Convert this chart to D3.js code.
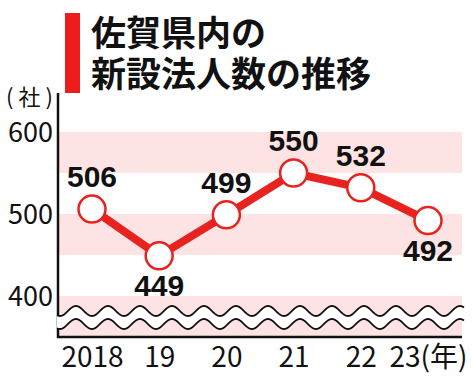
<!DOCTYPE html>
<html lang="ja">
<head>
<meta charset="UTF-8">
<script src="https://d3js.org/d3.v7.min.js"></script>
<style>
  body { margin: 0; background: #fff; }
  svg { display: block; }
  .tick text { font-family: 'Noto Sans CJK JP', sans-serif; fill: #111; }
</style>
</head>
<body>
<script>
var years = [2018, 2019, 2020, 2021, 2022, 2023];
var yearLabels = ["2018", "19", "20", "21", "22", "23(年)"];
var counts = [506, 449, 499, 550, 532, 492];
var labelSide = ["above", "below", "above", "above", "above", "below"];
var yTicks = [400, 500, 600];
var bands = [[550, 600], [450, 500], [350, 400]];
var titleLines = ["佐賀県内の", "新設法人数の推移"];

var W = 474, H = 378;
var svg = d3.select("body").append("svg").attr("width", W).attr("height", H);

var x = d3.scaleLinear().domain([2018, 2023]).range([92, 428]);
var y = d3.scaleLinear().domain([350, 600]).range([337, 132]);
var left = 58, right = 462;

// title
svg.append("rect").attr("x", 65).attr("y", 13).attr("width", 15).attr("height", 80).attr("fill", "#ee1c1c");
svg.selectAll(".title").data(titleLines).enter().append("text")
    .attr("x", 91).attr("y", function(d, i) { return 46 + i * 41; })
    .attr("font-family", "'Noto Sans CJK JP', sans-serif")
    .attr("font-weight", 700).attr("font-size", 35).attr("fill", "#111")
    .text(function(d) { return d; });

// bands
svg.selectAll(".band").data(bands).enter().append("rect")
    .attr("x", left).attr("width", right - left)
    .attr("y", function(d) { return y(d[1]); })
    .attr("height", function(d) { return y(d[0]) - y(d[1]); })
    .attr("fill", "#fde3e3");

// axes
svg.append("line").attr("x1", left).attr("x2", left).attr("y1", 93).attr("y2", y(350) + 1)
    .attr("stroke", "#111").attr("stroke-width", 2.5);
svg.append("line").attr("x1", left - 1).attr("x2", right).attr("y1", y(350)).attr("y2", y(350))
    .attr("stroke", "#111").attr("stroke-width", 2.5);

var yAxis = svg.append("g").attr("transform", "translate(" + (left - 5) + ",0)")
    .call(d3.axisLeft(y).tickValues(yTicks).tickSize(0).tickPadding(0));
yAxis.select(".domain").remove();
yAxis.selectAll("text").attr("font-size", 27).attr("dy", "0.36em");

svg.append("text").attr("x", 6).attr("y", 105)
    .attr("textLength", 47).attr("lengthAdjust", "spacing")
    .attr("font-family", "'Noto Sans CJK JP', sans-serif").attr("font-size", 22).attr("fill", "#111")
    .text("(社)");

var xAxis = svg.append("g").attr("transform", "translate(0,367)")
    .call(d3.axisBottom(x).tickValues(years).tickSize(0).tickPadding(0)
        .tickFormat(function(d, i) { return yearLabels[i]; }));
xAxis.select(".domain").remove();
xAxis.selectAll("text").attr("font-size", 28).attr("dy", 0);

// wavy break
var waveA = [], waveB = [];
for (var px = left - 1; px <= right + 2; px += 1) {
    var s = Math.sin((px - left) / 32 * 2 * Math.PI + 1.2) * 5;
    waveA.push([px, 311 + s]);
    waveB.push([px, 324 + s]);
}
svg.append("path")
    .attr("d", d3.line()(waveA.concat(waveB.slice().reverse())) + "Z")
    .attr("fill", "#fff");
[waveA, waveB].forEach(function(w) {
    svg.append("path").attr("d", d3.line()(w)).attr("fill", "none")
        .attr("stroke", "#111").attr("stroke-width", 1.8);
});

// line + points
var pts = counts.map(function(c, i) { return [x(years[i]), y(c)]; });
svg.append("path").attr("d", d3.line()(pts)).attr("fill", "none")
    .attr("stroke", "#e8221e").attr("stroke-width", 8);
svg.selectAll(".pt").data(pts).enter().append("circle")
    .attr("cx", function(d) { return d[0]; }).attr("cy", function(d) { return d[1]; })
    .attr("r", 13.5).attr("fill", "#fff").attr("stroke", "#e8221e").attr("stroke-width", 2.5);

svg.selectAll(".val").data(counts).enter().append("text")
    .attr("x", function(d, i) { return x(years[i]); })
    .attr("y", function(d, i) { return y(d) + (labelSide[i] === "above" ? -22 : 40); })
    .attr("text-anchor", "middle")
    .attr("font-family", "'Liberation Sans', Arial, sans-serif")
    .attr("font-weight", 700).attr("font-size", 30).attr("fill", "#111")
    .text(function(d) { return d; });
</script>
</body>
</html>
